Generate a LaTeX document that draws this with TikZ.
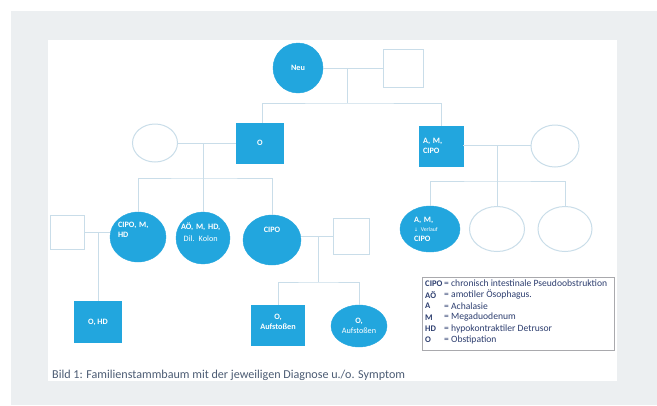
\documentclass[tikz,border=0pt]{standalone}
\usepackage{fontspec}
\setmainfont{Carlito}
\newfontfamily\symfont{DejaVu Sans}
\usetikzlibrary{shapes.geometric}
\definecolor{pedblue}{HTML}{22A6DE}
\definecolor{pedline}{HTML}{C9DDE9}
\definecolor{pagegray}{HTML}{ECEFF1}
\definecolor{legtext}{HTML}{2E3F70}
\definecolor{captext}{HTML}{4C5C74}
\definecolor{legframe}{HTML}{A9A9AD}
\tikzset{
  x=1pt, y=-1pt,
  person/.style={inner sep=0pt, align=center, font=\fontsize{8.2}{9.4}\selectfont\bfseries},
  affected/.style={person, fill=pedblue, draw=pedblue, text=white},
  healthy/.style={person, fill=white, draw=pedline, line width=1pt},
  male/.style 2 args={rectangle, minimum width=#1, minimum height=#2},
  female/.style 2 args={ellipse, minimum width=#1, minimum height=#2},
  tag/.style={inner sep=0pt, text=white, font=\fontsize{8.2}{9.4}\selectfont\bfseries},
  link/.style={draw=pedline, line width=1pt},
  legrow/.style={anchor=west, inner sep=0pt, text=legtext}
}
\begin{document}
\begin{tikzpicture}
% page and panel
\useasboundingbox (0,0) rectangle (657,405);
\fill[white] (0,0) rectangle (657,405);
\fill[pagegray] (11,11) rectangle (657,405);
\fill[white] (48,40) rectangle (617,381);

% generation I
\node[affected, female={50pt}{50pt}] (neu) at (298,68) {Neu};
\node[healthy, male={40pt}{38pt}] (gp) at (403,68) {};

% generation II
\node[affected, male={47pt}{40pt}] (o) at (260,143) {O};
\node[affected, male={44pt}{40pt}, text width=36pt, align=left] (amc) at (441,146) {A, M,\\CIPO};
\node[healthy, female={45pt}{38pt}] (wl) at (155,143) {};
\node[healthy, female={48pt}{42pt}] (wr) at (555,146) {};

% generation III, left family
\node[affected, female={56pt}{50pt}] (c1) at (138,237) {};
\node[tag, text width=40pt, align=left] (c1t) at ([yshift=7pt]c1.center) {CIPO, M,\\HD};
\node[affected, female={54pt}{52pt}] (c2) at (203,238) {};
\node[tag, text width=44pt, align=left] (c2t) at ([yshift=6pt]c2.center) {AÖ, M, HD,\\[2pt]{\mdseries\ Dil. Kolon}};
\node[affected, female={58pt}{50pt}] (c3) at (272,240) {};
\node[tag] (c3t) at ([yshift=10pt]c3.center) {CIPO};
\node[healthy, male={34pt}{34pt}] (hl) at (67,232) {};
\node[healthy, male={36pt}{36pt}] (hr) at (351,236) {};

% generation III, right family
\node[affected, female={60pt}{46pt}, text width=32pt, align=left] (d1) at (430,229) {A, M,\\{\mdseries\fontsize{5.8}{8}\selectfont{\symfont\fontsize{4.8}{6}\selectfont ↓} Verlauf}\\CIPO};
\node[healthy, female={55pt}{45pt}] (d2) at (497,229) {};
\node[healthy, female={54pt}{45pt}] (d3) at (565,229) {};

% generation IV
\node[affected, male={47pt}{41pt}] (e1) at (98,322) {O, HD};
\node[affected, male={53pt}{40pt}] (f1) at (278,325) {};
\node[tag, align=center] (f1t) at ([yshift=3pt]f1.center) {O,\\Aufstoßen};
\node[affected, female={56pt}{42pt}] (f2) at (359,326) {O,\\{\mdseries Aufstoßen}};

% couple lines and descent lines
\coordinate (m1) at (347,68);
\coordinate (b1) at (347,103);
\draw[link] (neu) -- (gp);
\draw[link] (m1) -- (b1);
\draw[link] (o.north -| 262,0) |- (b1) -| (amc);

\coordinate (m2) at (203,143);
\coordinate (b2) at (203,178);
\draw[link] (wl) -- (o);
\draw[link] (m2) -- (b2);
\draw[link] (c1) |- (b2) -| (c3);
\draw[link] (b2) -- (c2);

\coordinate (m3) at (497,145);
\coordinate (b3) at (497,181);
\draw[link] (amc.east |- m3) -- (wr.west |- m3);
\draw[link] (m3) -- (b3);
\draw[link] (d1) |- (b3) -| (d3);
\draw[link] (b3) -- (d2);

\coordinate (m4) at (98,232);
\draw[link] (hl) -- (c1.west |- m4);
\draw[link] (m4) -- (e1);

\coordinate (m5) at (318,236);
\coordinate (b5) at (318,282);
\draw[link] (c3.east |- m5) -- (hr);
\draw[link] (m5) -- (b5);
\draw[link] (f1) |- (b5) -| (f2);

% legend
\node[draw=legframe, line width=1pt, minimum width=192pt, minimum height=73pt, inner sep=0pt] (legend) at (518,313.5) {};
\foreach \ab/\txt [count=\i] in {CIPO/chronisch intestinale Pseudoobstruktion, AÖ/amotiler Ösophagus., A/Achalasie, M/Megaduodenum, HD/hypokontraktiler Detrusor, O/Obstipation}{
  \node[legrow, font=\fontsize{8.6}{9}\selectfont\bfseries] (ab\i) at (425,{283.5+11.3*(\i-1)}) {\ab};
  \node[legrow, font=\fontsize{9.6}{10}\selectfont] (tx\i) at (444,{283.5+11.3*(\i-1)}) {= \txt};
}

% caption
\node[anchor=west, inner sep=0pt, text=captext, font=\fontsize{12.1}{14}\selectfont] (cap) at (52,375) {Bild 1: Familienstammbaum mit der jeweiligen Diagnose u./o. Symptom};
\end{tikzpicture}
\end{document}
